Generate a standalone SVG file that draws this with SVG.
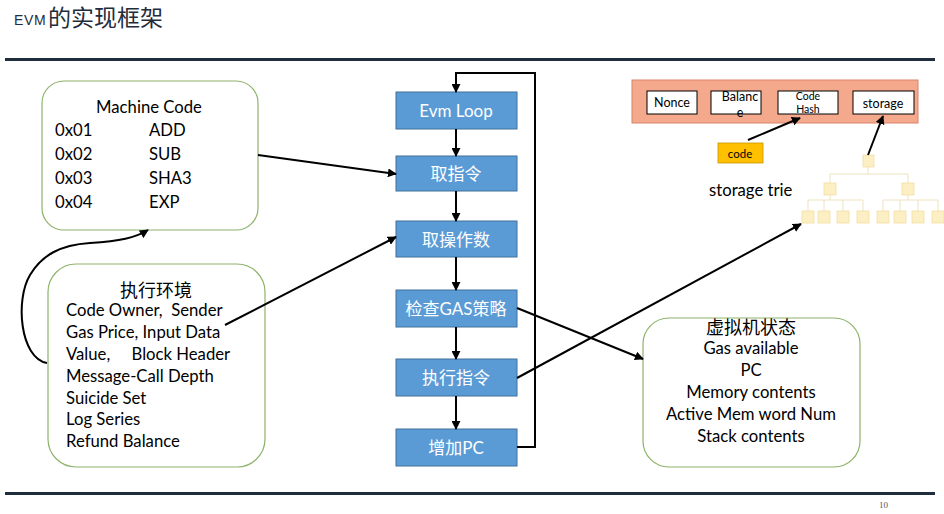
<svg xmlns="http://www.w3.org/2000/svg" width="944" height="514" viewBox="0 0 944 514">
<style>
text{font-family:Lato,"Noto Sans","Noto Sans CJK SC",sans-serif;fill:#000}
.blue{fill:#5B9BD5;stroke:#41719C;stroke-width:1}
.bt{fill:#fff;font-size:17px;text-anchor:middle;dominant-baseline:central}
.green{fill:#fff;stroke:#8DB36A;stroke-width:1.2}
.t15{font-size:16.7px;dominant-baseline:central}
.cjk{font-size:18px}
.c{text-anchor:middle}
.con{fill:none;stroke:#000;stroke-width:2}
.leaf{fill:#FCEFC4;stroke:#F2DFA4;stroke-width:0.8}
.tl{fill:none;stroke:#EEE2C0;stroke-width:1}
.acc{fill:#fff;stroke:#000;stroke-width:1}
</style>
<defs>
<marker id="ah" viewBox="0 0 10 10" refX="9" refY="5" markerWidth="4.5" markerHeight="4.5" orient="auto-start-reverse" markerUnits="strokeWidth"><path d="M0,0 L10,5 L0,10 z" fill="#000"/></marker>
</defs>
<rect width="944" height="514" fill="#fff"/>
<g id="title">
<text x="14" y="25" style="font-family:'Liberation Sans',sans-serif;font-size:14px;letter-spacing:0.6px;fill:#1F2D3D">EVM</text>
<text x="48" y="26" style="font-family:'Noto Sans CJK SC',sans-serif;font-size:23px;fill:#1F2D3D">的实现框架</text>
</g>
<rect x="5" y="58" width="930" height="3" fill="#1F2D3D"/>
<rect x="5" y="492" width="930" height="3" fill="#1F2D3D"/>
<text x="879" y="508" style="font-family:'Liberation Serif',serif;font-size:9px;fill:#555">10</text>

<g id="machine-code">
<rect class="green" x="42" y="81" width="216" height="149" rx="22"/>
<text class="t15 c" x="149" y="107">Machine Code</text>
<text class="t15" x="55" y="130">0x01</text><text class="t15" x="149" y="130">ADD</text>
<text class="t15" x="55" y="154">0x02</text><text class="t15" x="149" y="154">SUB</text>
<text class="t15" x="55" y="178">0x03</text><text class="t15" x="149" y="178">SHA3</text>
<text class="t15" x="55" y="202">0x04</text><text class="t15" x="149" y="202">EXP</text>
</g>

<g id="exec-env">
<rect class="green" x="48" y="264" width="217" height="203" rx="28"/>
<text class="t15 cjk c" x="156" y="290">执行环境</text>
<text class="t15" x="66" y="310" xml:space="preserve">Code Owner,  Sender</text>
<text class="t15" x="66" y="332">Gas Price, Input Data</text>
<text class="t15" x="66" y="354" xml:space="preserve">Value,     Block Header</text>
<text class="t15" x="66" y="376">Message-Call Depth</text>
<text class="t15" x="66" y="398">Suicide Set</text>
<text class="t15" x="66" y="419">Log Series</text>
<text class="t15" x="66" y="441">Refund Balance</text>
</g>

<g id="vm-state">
<rect class="green" x="643" y="318" width="217" height="149" rx="26"/>
<text class="t15 cjk c" x="751" y="327">虚拟机状态</text>
<text class="t15 c" x="751" y="348">Gas available</text>
<text class="t15 c" x="751" y="370">PC</text>
<text class="t15 c" x="751" y="392">Memory contents</text>
<text class="t15 c" x="751" y="414">Active Mem word Num</text>
<text class="t15 c" x="751" y="436">Stack contents</text>
</g>

<g id="evm-loop"><rect class="blue" x="396" y="92" width="121" height="37"/><text class="bt" x="456" y="110">Evm Loop</text></g>
<g id="fetch-instr"><rect class="blue" x="396" y="156" width="121" height="35"/><text class="bt" x="456" y="173">取指令</text></g>
<g id="fetch-operand"><rect class="blue" x="396" y="221" width="121" height="36"/><text class="bt" x="456" y="239">取操作数</text></g>
<g id="check-gas"><rect class="blue" x="396" y="290" width="121" height="37"/><text class="bt" x="456" y="308">检查GAS策略</text></g>
<g id="exec-instr"><rect class="blue" x="396" y="359" width="121" height="37"/><text class="bt" x="456" y="377">执行指令</text></g>
<g id="inc-pc"><rect class="blue" x="396" y="429" width="121" height="37"/><text class="bt" x="456" y="447">增加PC</text></g>

<g id="account">
<rect x="632" y="80" width="286" height="43" fill="#F4A98C" stroke="#D9826A" stroke-width="1"/>
<rect class="acc" x="647" y="91" width="50" height="23"/>
<text x="672" y="102" class="c" style="font-size:12.5px;dominant-baseline:central">Nonce</text>
<rect class="acc" x="711" y="91" width="50" height="23"/>
<text x="740" y="96" class="c" style="font-size:12.5px;dominant-baseline:central">Balanc</text>
<text x="740" y="112" class="c" style="font-size:12.5px;dominant-baseline:central">e</text>
<rect class="acc" x="778" y="91" width="60" height="23"/>
<text x="808" y="96" class="c" style="font-size:10.5px;dominant-baseline:central">Code</text>
<text x="808" y="109" class="c" style="font-size:10.5px;dominant-baseline:central">Hash</text>
<rect class="acc" x="853" y="91" width="61" height="23"/>
<text x="883" y="103" class="c" style="font-size:12.5px;dominant-baseline:central">storage</text>
</g>

<g id="code">
<rect x="718" y="143" width="45" height="20" fill="#FFC000" stroke="#C99500" stroke-width="0.8"/>
<text x="740" y="153" class="c" style="font-size:11.5px;dominant-baseline:central">code</text>
</g>

<g id="storage-trie">
<text x="709" y="190" class="t15">storage trie</text>
<path class="tl" d="M868,167 V174 M830,174 H908 M830,174 V183 M908,174 V183 M830,195 V200 M808,200 H863 M808,200 V211 M824,200 V211 M843,200 V211 M863,200 V211 M908,195 V200 M883,200 H938 M883,200 V211 M900,200 V211 M918,200 V211 M938,200 V211"/>
<rect class="leaf" x="863" y="155" width="11" height="12"/>
<rect class="leaf" x="824" y="183" width="12" height="12"/>
<rect class="leaf" x="902" y="183" width="12" height="12"/>
<rect class="leaf" x="802" y="211" width="12" height="12"/>
<rect class="leaf" x="818" y="211" width="12" height="12"/>
<rect class="leaf" x="837" y="211" width="12" height="12"/>
<rect class="leaf" x="857" y="211" width="12" height="12"/>
<rect class="leaf" x="877" y="211" width="12" height="12"/>
<rect class="leaf" x="894" y="211" width="12" height="12"/>
<rect class="leaf" x="912" y="211" width="12" height="12"/>
<rect class="leaf" x="932" y="211" width="12" height="12"/>
</g>

<g id="connectors">
<path class="con" d="M456,129 V156" marker-end="url(#ah)"/>
<path class="con" d="M456,191 V221" marker-end="url(#ah)"/>
<path class="con" d="M456,257 V290" marker-end="url(#ah)"/>
<path class="con" d="M456,327 V359" marker-end="url(#ah)"/>
<path class="con" d="M456,396 V429" marker-end="url(#ah)"/>
<path class="con" d="M517,447 H535 V73 H456 V92" marker-end="url(#ah)"/>
<path class="con" d="M258,155 L396,174" marker-end="url(#ah)"/>
<path class="con" d="M225,325 L396,237" marker-end="url(#ah)"/>
<path class="con" d="M517,308 L643,359" marker-end="url(#ah)"/>
<path class="con" d="M517,378 L801,224" marker-end="url(#ah)"/>
<path class="con" d="M47,363 C20,358 15,300 30,275 C42,255 60,245 90,243 C120,241 135,238 148,230" marker-end="url(#ah)"/>
<path class="con" d="M748,140 L800,118" marker-end="url(#ah)"/>
<path class="con" d="M868,155 L883,116" marker-end="url(#ah)"/>
</g>
</svg>
